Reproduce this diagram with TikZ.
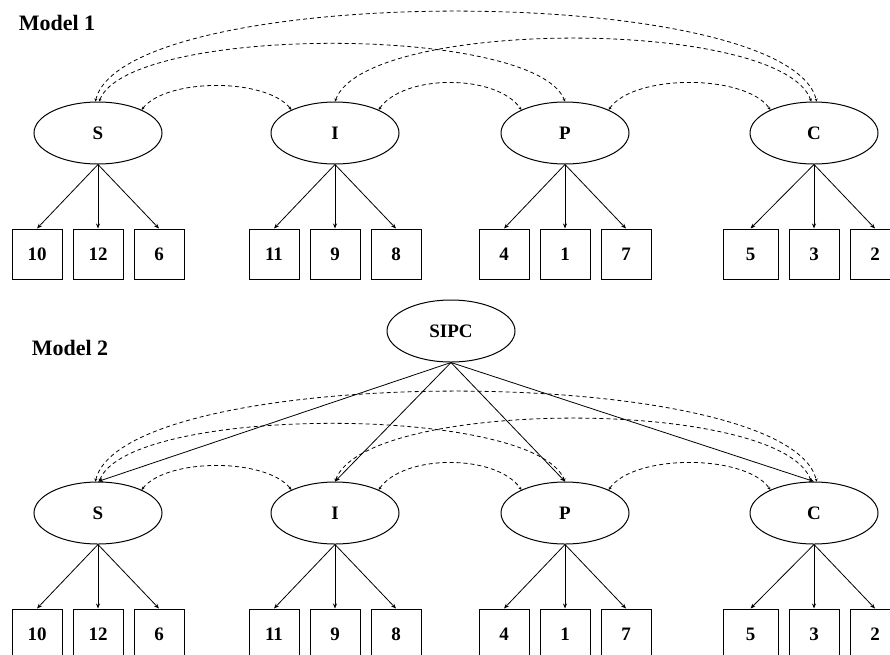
\documentclass[tikz,border=0pt]{standalone}
\usepackage{fontspec}
\setmainfont{Liberation Serif}
\usetikzlibrary{positioning,arrows.meta,shapes.geometric}
\tikzset{
  node-latent/.style={draw,ellipse,line width=1pt,minimum width=128pt,
    minimum height=62pt,inner sep=0pt,font=\fontsize{19}{19}\selectfont\bfseries},
  node-item/.style={draw,line width=1pt,minimum size=50pt,inner sep=0pt,
    font=\fontsize{19}{19}\selectfont\bfseries},
  node-wide/.style={minimum width=55pt},
  label-model/.style={font=\fontsize{22}{22}\selectfont\bfseries},
  arrow/.style={-{Stealth[length=5pt,width=4pt]},line width=0.8pt},
  arrow-cov/.style={{Stealth[length=3pt,width=3pt]}-{Stealth[length=3pt,width=3pt]},
    line width=0.8pt,dash pattern=on 4pt off 3pt},
}
\begin{document}
\begin{tikzpicture}[x=1pt,y=-1pt,node distance=10pt]
  \useasboundingbox (0,0) rectangle (890,654);
  \clip (0,0) rectangle (890,654);
  % Model 1
  \node[label-model] (m1) at (57,23) {Model 1};
  \node[node-latent] (S1) at (98,133) {S};
  \node[node-latent] (I1) at (335,133) {I};
  \node[node-latent] (P1) at (565,133) {P};
  \node[node-latent] (C1) at (814,133) {C};
  \node[node-item,below=64pt of S1] (S1b) {12};
  \node[node-item,left=of S1b] (S1a) {10};
  \node[node-item,right=of S1b] (S1c) {6};
  \node[node-item,below=64pt of I1] (I1b) {9};
  \node[node-item,left=of I1b] (I1a) {11};
  \node[node-item,right=of I1b] (I1c) {8};
  \node[node-item,below=64pt of P1] (P1b) {1};
  \node[node-item,left=of P1b] (P1a) {4};
  \node[node-item,right=of P1b] (P1c) {7};
  \node[node-item,below=64pt of C1] (C1b) {3};
  \node[node-item,node-wide,left=of C1b] (C1a) {5};
  \node[node-item,right=of C1b] (C1c) {2};
  \draw[arrow-cov] (S1.28) .. controls +(25,-32) and +(-25,-32) .. (I1.152);
  \draw[arrow-cov] (I1.28) .. controls +(25,-36) and +(-25,-36) .. (P1.152);
  \draw[arrow-cov] (P1.28) .. controls +(25,-36) and +(-25,-36) .. (C1.152);
  \draw[arrow-cov] (S1.88) .. controls +(30,-77) and +(-30,-77) .. (P1.90);
  \draw[arrow-cov] (I1.90) .. controls +(30,-84) and +(-30,-84) .. (C1.95);
  \draw[arrow-cov] (S1.95) .. controls +(30,-120) and +(-30,-120) .. (C1.85);

  % Model 2
  \node[label-model] (m2) at (70,348) {Model 2};
  \node[node-latent] (G) at (451,331) {SIPC};
  \node[node-latent] (S2) at (98,513) {S};
  \node[node-latent] (I2) at (335,513) {I};
  \node[node-latent] (P2) at (565,513) {P};
  \node[node-latent] (C2) at (814,513) {C};
  \node[node-item,below=64pt of S2] (S2b) {12};
  \node[node-item,left=of S2b] (S2a) {10};
  \node[node-item,right=of S2b] (S2c) {6};
  \node[node-item,below=64pt of I2] (I2b) {9};
  \node[node-item,left=of I2b] (I2a) {11};
  \node[node-item,right=of I2b] (I2c) {8};
  \node[node-item,below=64pt of P2] (P2b) {1};
  \node[node-item,left=of P2b] (P2a) {4};
  \node[node-item,right=of P2b] (P2c) {7};
  \node[node-item,below=64pt of C2] (C2b) {3};
  \node[node-item,node-wide,left=of C2b] (C2a) {5};
  \node[node-item,right=of C2b] (C2c) {2};
  \draw[arrow-cov] (S2.28) .. controls +(25,-32) and +(-25,-32) .. (I2.152);
  \draw[arrow-cov] (I2.28) .. controls +(25,-36) and +(-25,-36) .. (P2.152);
  \draw[arrow-cov] (P2.28) .. controls +(25,-36) and +(-25,-36) .. (C2.152);
  \draw[arrow-cov] (S2.88) .. controls +(30,-77) and +(-30,-77) .. (P2.90);
  \draw[arrow-cov] (I2.90) .. controls +(30,-84) and +(-30,-84) .. (C2.95);
  \draw[arrow-cov] (S2.95) .. controls +(30,-120) and +(-30,-120) .. (C2.85);
  \foreach \f in {S2,I2,P2,C2}
    \draw[arrow] (G.south) -- (\f.north);

  % loadings
  \foreach \f in {S1,I1,P1,C1,S2,I2,P2,C2}
    \foreach \k in {a,b,c}
      \draw[arrow] (\f.south) -- (\f\k.north);
\end{tikzpicture}
\end{document}
